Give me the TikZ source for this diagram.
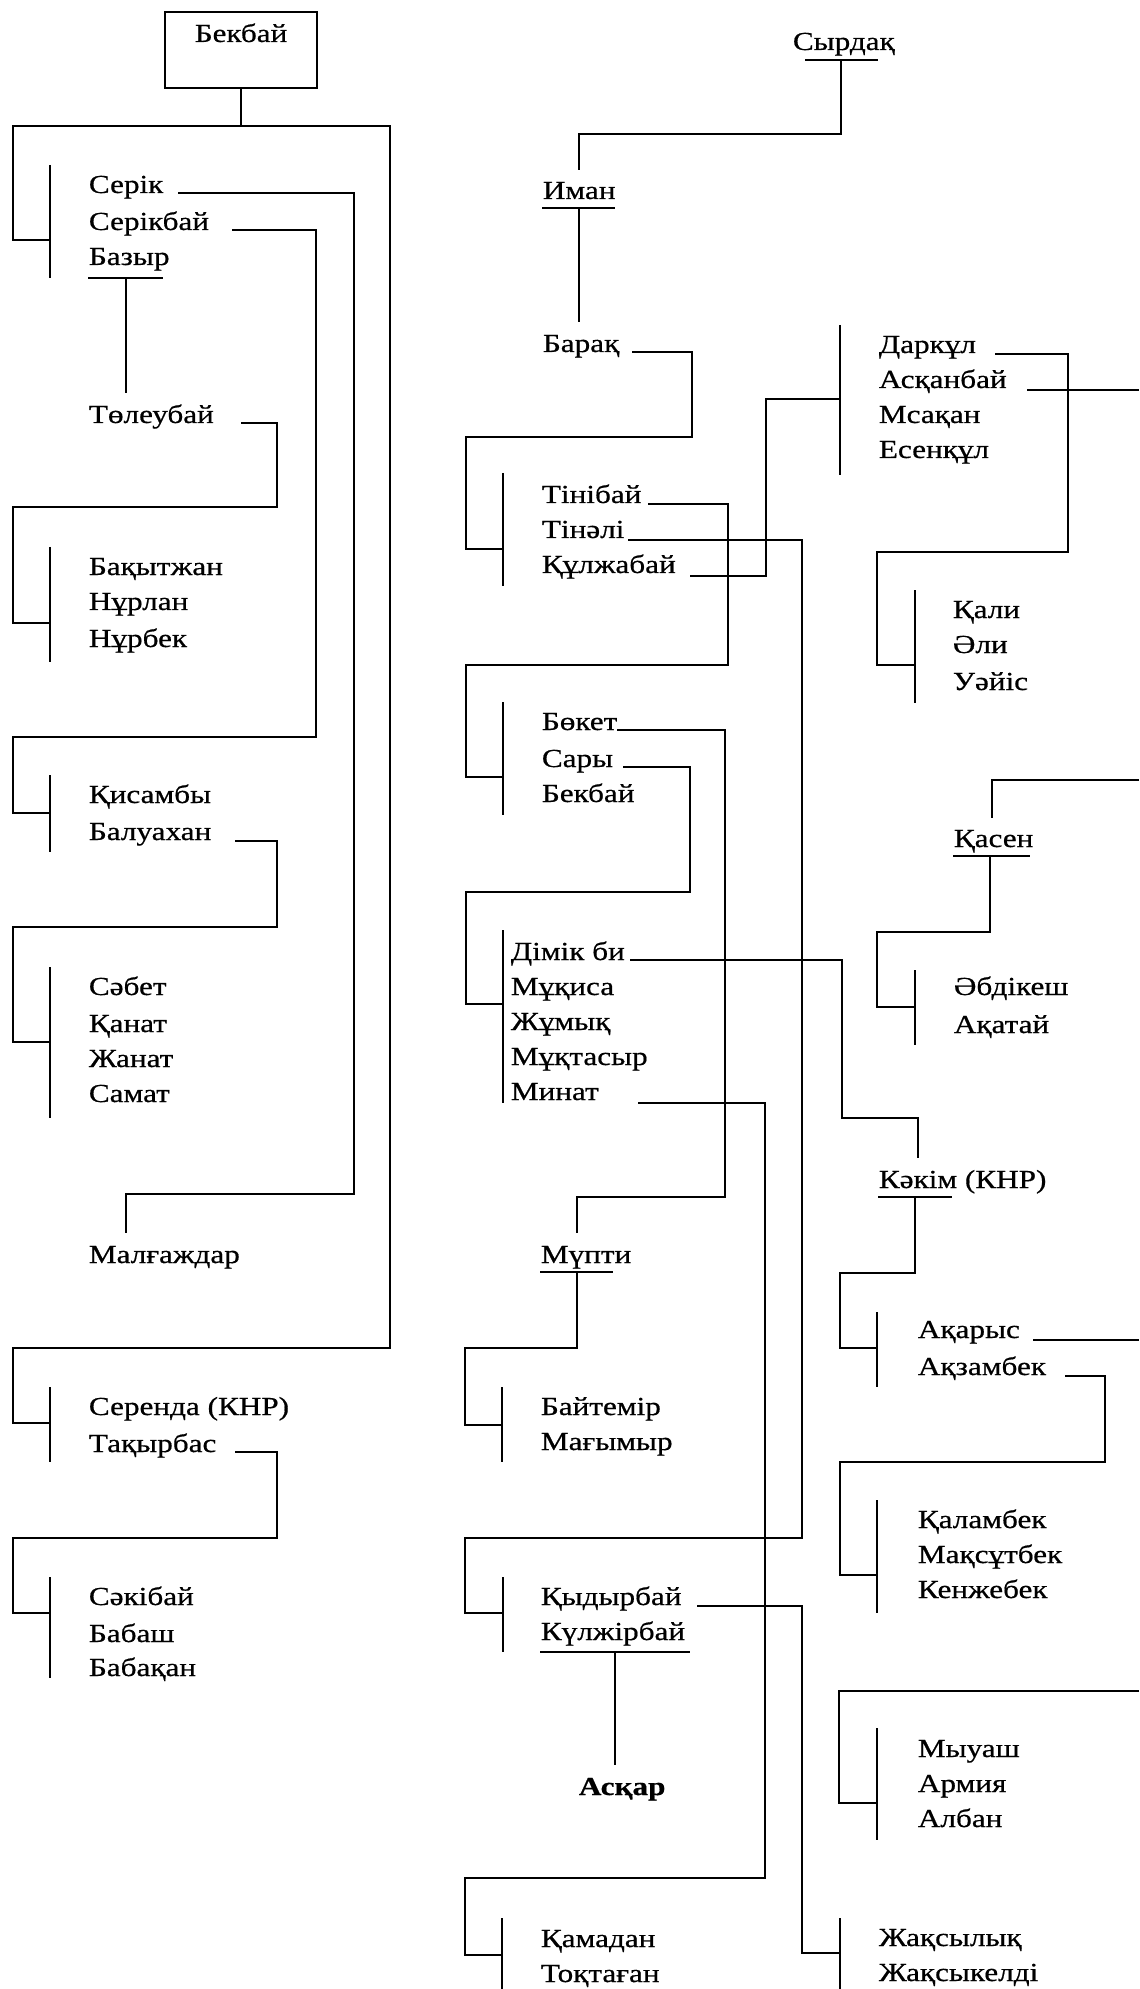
\documentclass[tikz,border=0pt]{standalone}
\usepackage{fontspec}
\setmainfont[FakeStretch=1.2,FakeBold=0.6]{Liberation Serif}
\begin{document}
\begin{tikzpicture}[x=0.5pt,y=-0.5pt,line width=0.9pt,
  nm/.style={anchor=base west,inner sep=0pt,font=\fontsize{13pt}{15pt}\selectfont},
  nmb/.style={nm,font=\fontsize{13pt}{15pt}\selectfont\bfseries}]
\useasboundingbox[fill=white] (0,0) rectangle (1139,1989);
% ---------------- left column ----------------
\node[draw,minimum width=76pt,minimum height=38pt,inner sep=0pt] (bbox) at (241,50) {};
\node[anchor=base,inner sep=0pt,font=\fontsize{13pt}{15pt}\selectfont] (bekbay) at (241,42) {Бекбай};
\draw (bbox.south) -- (241,126);
\draw (50,240) -- (13,240) -- (13,126) -- (390,126) -- (390,1348) -- (13,1348) -- (13,1423) -- (50,1423);
\draw (50,165) -- (50,278);
\node[nm] (serik) at (88,193) {Серік};
\node[nm] (serikbay) at (88,230) {Серікбай};
\node[nm] (bazyr) at (88,265) {Базыр};
\draw (88,278) -- (163,278);
\draw (178,193) -- (354,193) -- (354,1194) -- (126,1194) -- (126,1233);
\draw (232,230) -- (316,230) -- (316,737) -- (13,737) -- (13,813) -- (50,813);
\draw (126,278) -- (126,393);
\node[nm] (toleu) at (88,423) {Төлеубай};
\draw (241,423) -- (277,423) -- (277,507) -- (13,507) -- (13,623) -- (50,623);
\draw (50,547) -- (50,662);
\node[nm] (bakyt) at (88,575) {Бақытжан};
\node[nm] (nurlan) at (88,610) {Нұрлан};
\node[nm] (nurbek) at (88,647) {Нұрбек};
\draw (50,775) -- (50,852);
\node[nm] (kisam) at (88,803) {Қисамбы};
\node[nm] (baluakh) at (88,840) {Балуахан};
\draw (235,841) -- (277,841) -- (277,927) -- (13,927) -- (13,1042) -- (50,1042);
\draw (50,967) -- (50,1118);
\node[nm] (sabet) at (88,995) {Сәбет};
\node[nm] (kanat) at (88,1032) {Қанат};
\node[nm] (zhanat) at (88,1067) {Жанат};
\node[nm] (samat) at (88,1102) {Самат};
\node[nm] (malg) at (88,1263) {Малғаждар};
\draw (50,1387) -- (50,1462);
\node[nm] (serenda) at (88,1415) {Серенда (КНР)};
\node[nm] (takyr) at (88,1452) {Тақырбас};
\draw (235,1452) -- (277,1452) -- (277,1538) -- (13,1538) -- (13,1613) -- (50,1613);
\draw (50,1577) -- (50,1678);
\node[nm] (sakib) at (88,1605) {Сәкібай};
\node[nm] (babash) at (88,1642) {Бабаш};
\node[nm] (babak) at (88,1676) {Бабақан};
% ---------------- middle column ----------------
\node[nm] (syrdak) at (792,50) {Сырдақ};
\draw (805,60) -- (878,60);
\draw (841,60) -- (841,134) -- (579,134) -- (579,170);
\node[nm] (iman) at (542,199) {Иман};
\draw (542,208) -- (615,208);
\draw (579,208) -- (579,322);
\node[nm] (barak) at (542,352) {Барақ};
\draw (632,352) -- (692,352) -- (692,437) -- (466,437) -- (466,549) -- (503,549);
\draw (503,473) -- (503,586);
\node[nm] (tinib) at (541,503) {Тінібай};
\node[nm] (tinali) at (541,538) {Тінәлі};
\node[nm] (kulzh) at (541,573) {Құлжабай};
\draw (648,504) -- (728,504) -- (728,665) -- (466,665) -- (466,777) -- (503,777);
\draw (628,540) -- (802,540) -- (802,1538) -- (465,1538) -- (465,1613) -- (503,1613);
\draw (690,576) -- (766,576) -- (766,399) -- (840,399);
\draw (503,702) -- (503,815);
\node[nm] (boket) at (541,730) {Бөкет};
\node[nm] (sary) at (541,767) {Сары};
\node[nm] (bekbay2) at (541,802) {Бекбай};
\draw (617,730) -- (725,730) -- (725,1197) -- (577,1197) -- (577,1233);
\draw (623,767) -- (690,767) -- (690,892) -- (466,892) -- (466,1004) -- (503,1004);
\draw (503,930) -- (503,1103);
\node[nm] (dimik) at (510,960) {Дімік би};
\node[nm] (mukisa) at (510,995) {Мұқиса};
\node[nm] (zhumyk) at (510,1030) {Жұмық};
\node[nm] (muktas) at (510,1065) {Мұқтасыр};
\node[nm] (minat) at (510,1100) {Минат};
\draw (630,960) -- (842,960) -- (842,1118) -- (918,1118) -- (918,1158);
\draw (638,1103) -- (765,1103) -- (765,1878) -- (465,1878) -- (465,1955) -- (502,1955);
\node[nm] (mupti) at (540,1263) {Мүпти};
\draw (540,1272) -- (613,1272);
\draw (577,1272) -- (577,1348) -- (465,1348) -- (465,1425) -- (502,1425);
\draw (502,1387) -- (502,1462);
\node[nm] (baytem) at (540,1415) {Байтемір};
\node[nm] (magym) at (540,1450) {Мағымыр};
\draw (503,1577) -- (503,1652);
\node[nm] (kydyr) at (540,1605) {Қыдырбай};
\node[nm] (kulzhir) at (540,1640) {Күлжірбай};
\draw (540,1652) -- (690,1652);
\draw (615,1652) -- (615,1765);
\node[nmb] (askar) at (578,1795) {Асқар};
\draw (697,1606) -- (802,1606) -- (802,1953) -- (840,1953);
\draw (502,1918) -- (502,1989);
\node[nm] (kamadan) at (540,1947) {Қамадан};
\node[nm] (toktagan) at (540,1982) {Тоқтаған};
% ---------------- right column ----------------
\draw (840,325) -- (840,475);
\node[nm] (darkul) at (878,353) {Даркұл};
\node[nm] (askanb) at (878,388) {Асқанбай};
\node[nm] (msakan) at (878,423) {Мсақан};
\node[nm] (esenk) at (878,458) {Есенқұл};
\draw (995,354) -- (1068,354) -- (1068,552) -- (877,552) -- (877,665) -- (915,665);
\draw (1027,390) -- (1139,390);
\draw (915,590) -- (915,703);
\node[nm] (kali) at (952,618) {Қали};
\node[nm] (ali) at (952,653) {Әли};
\node[nm] (uais) at (952,690) {Уәйіс};
\draw (1139,780) -- (992,780) -- (992,818);
\node[nm] (kasen) at (953,847) {Қасен};
\draw (953,856) -- (1030,856);
\draw (990,856) -- (990,932) -- (877,932) -- (877,1007) -- (915,1007);
\draw (915,970) -- (915,1045);
\node[nm] (abdik) at (953,995) {Әбдікеш};
\node[nm] (akatay) at (953,1033) {Ақатай};
\node[nm] (kakim) at (878,1188) {Кәкім (КНР)};
\draw (878,1197) -- (952,1197);
\draw (915,1197) -- (915,1273) -- (840,1273) -- (840,1348) -- (877,1348);
\draw (877,1312) -- (877,1387);
\node[nm] (akarys) at (917,1338) {Ақарыс};
\node[nm] (akzam) at (917,1375) {Ақзамбек};
\draw (1033,1340) -- (1139,1340);
\draw (1065,1376) -- (1105,1376) -- (1105,1462) -- (840,1462) -- (840,1575) -- (877,1575);
\draw (877,1500) -- (877,1613);
\node[nm] (kalamb) at (917,1528) {Қаламбек};
\node[nm] (maksut) at (917,1563) {Мақсұтбек};
\node[nm] (kenzhe) at (917,1598) {Кенжебек};
\draw (1139,1691) -- (839,1691) -- (839,1803) -- (877,1803);
\draw (877,1728) -- (877,1840);
\node[nm] (myuash) at (917,1757) {Мыуаш};
\node[nm] (armiya) at (917,1792) {Армия};
\node[nm] (alban) at (917,1827) {Албан};
\draw (840,1918) -- (840,1989);
\node[nm] (zhaksyl) at (878,1946) {Жақсылық};
\node[nm] (zhaksyk) at (878,1981) {Жақсыкелді};
\end{tikzpicture}
\end{document}
